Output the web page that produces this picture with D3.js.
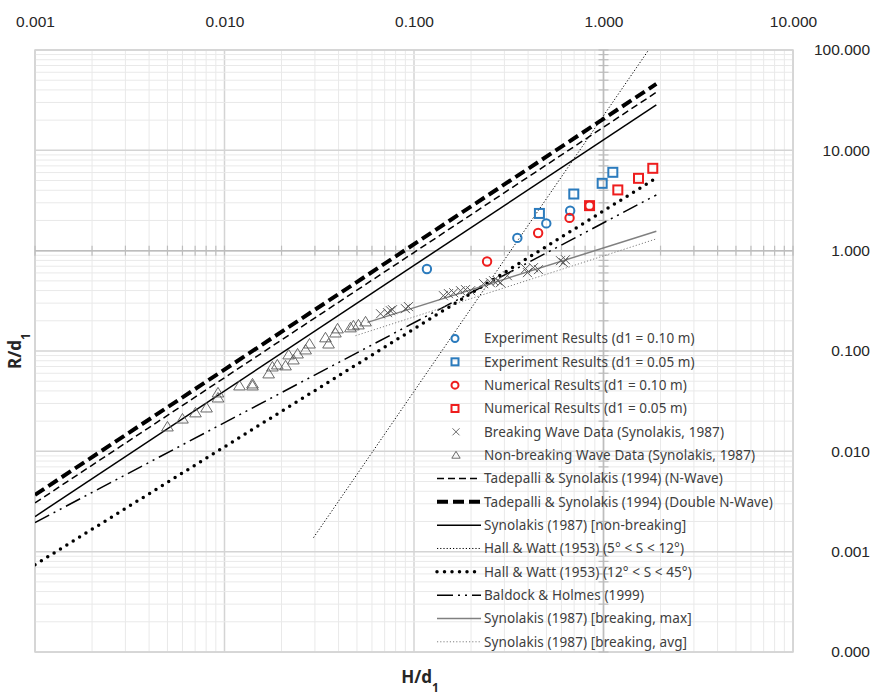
<!DOCTYPE html>
<html>
<head>
<meta charset="utf-8">
<script src="https://cdn.jsdelivr.net/npm/d3@7"></script>
<style>
  body { margin: 0; background: #fff; }
  svg { font-family: "Noto Sans", "Open Sans", sans-serif; }
  .tick-label { font-size: 15.5px; fill: #262626; }
  .legend text { font-size: 13.5px; fill: #404040; letter-spacing: 0.1px; }
  .axis-title { font-size: 17px; font-weight: bold; fill: #262626; }
</style>
</head>
<body>
<div id="chart"></div>
<script>
// tick labels
const xTicks = [0.001, 0.01, 0.1, 1, 10];
const yTicks = [0.0001, 0.001, 0.01, 0.1, 1, 10, 100];

// measured points [H/d1, R/d1]
const expD010 = [[0.117, 0.657], [0.351, 1.34], [0.499, 1.87], [0.667, 2.50]];
const expD005 = [[0.459, 2.35], [0.697, 3.67], [0.984, 4.69], [1.12, 6.04]];
const numD010 = [[0.243, 0.78], [0.452, 1.50], [0.662, 2.12], [0.844, 2.81]];
const numD005 = [[0.844, 2.81], [1.19, 4.03], [1.53, 5.26], [1.82, 6.62]];

const breakingData = [
  [0.0666, 0.235], [0.0725, 0.241], [0.0751, 0.252], [0.0770, 0.258], [0.0902, 0.264],
  [0.0935, 0.277], [0.143, 0.356], [0.152, 0.373], [0.162, 0.381], [0.176, 0.399],
  [0.187, 0.409], [0.199, 0.399], [0.233, 0.469], [0.253, 0.480], [0.263, 0.502],
  [0.276, 0.502], [0.286, 0.480], [0.311, 0.563], [0.388, 0.662], [0.397, 0.604],
  [0.427, 0.677], [0.454, 0.647], [0.593, 0.795], [0.615, 0.759], [0.630, 0.813]
];
const nonBreakingData = [
  [0.0050, 0.0176], [0.0060, 0.0211], [0.00703, 0.0243], [0.00804, 0.0272], [0.00924, 0.0342],
  [0.00924, 0.0384], [0.0120, 0.0451], [0.01405, 0.0472], [0.01405, 0.0451], [0.0171, 0.0594],
  [0.0179, 0.0697], [0.0190, 0.0730], [0.0210, 0.0714], [0.0218, 0.0918], [0.0231, 0.0819],
  [0.0243, 0.0939], [0.0268, 0.103], [0.0281, 0.118], [0.0341, 0.136], [0.0354, 0.118],
  [0.0385, 0.152], [0.0395, 0.167], [0.0462, 0.171], [0.0479, 0.179], [0.0509, 0.183],
  [0.0555, 0.196]
];

// empirical curves, end points [H/d1, R/d1]
const tadepalliN = [[0.001, 0.00306], [1.9, 37.9]];
const tadepalliDN = [[0.001, 0.00368], [1.9, 45.9]];
const synoNonBreaking = [[0.001, 0.00224], [1.9, 28.4]];
const hallWatt5to12 = [[0.0295, 0.00138], [1.73, 100]];
const hallWatt12to45 = [[0.001, 0.00074], [1.9, 5.3]];
const baldockHolmes = [[0.001, 0.00195], [1.9, 3.59]];
const synoBreakMax = [[0.0568, 0.193], [1.9, 1.56]];
const synoBreakAvg = [[0.0491, 0.142], [1.9, 1.31]];

const blue = "#2b7bbd", red = "#ee1d1d", grayMark = "#595959";

const W = 889, H = 696;
const margin = { top: 50, right: 96, bottom: 44, left: 35 };

const svg = d3.select("#chart").append("svg")
  .attr("width", W).attr("height", H);

const x = d3.scaleLog().domain([0.001, 10]).range([margin.left, W - margin.right]);
const y = d3.scaleLog().domain([0.0001, 100]).range([H - margin.bottom, margin.top]);

svg.append("clipPath").attr("id", "plot-clip")
  .append("rect")
  .attr("x", x(0.001)).attr("y", y(100))
  .attr("width", x(10) - x(0.001)).attr("height", y(0.0001) - y(100));

// grid
const grid = svg.append("g");
const isMajor = v => Math.abs(Math.log10(v) - Math.round(Math.log10(v))) < 1e-6;

grid.selectAll(".vx").data(x.ticks())
  .enter().append("line")
  .attr("x1", d => x(d)).attr("x2", d => x(d))
  .attr("y1", y(100)).attr("y2", y(0.0001))
  .attr("stroke", d => isMajor(d) ? "#d4d4d4" : "#e9e9e9")
  .attr("stroke-width", d => isMajor(d) ? 1.5 : 1);

grid.selectAll(".hy").data(y.ticks())
  .enter().append("line")
  .attr("y1", d => y(d)).attr("y2", d => y(d))
  .attr("x1", x(0.001)).attr("x2", x(10))
  .attr("stroke", d => isMajor(d) ? "#d4d4d4" : "#e9e9e9")
  .attr("stroke-width", d => isMajor(d) ? 1.5 : 1);

svg.append("rect")
  .attr("x", x(0.001)).attr("y", y(100))
  .attr("width", x(10) - x(0.001)).attr("height", y(0.0001) - y(100))
  .attr("fill", "none").attr("stroke", "#d4d4d4").attr("stroke-width", 1.5);

// axes crossing at 1 (with cross tick marks)
const axisCol = "#bdbdbd";
svg.append("line")
  .attr("x1", x(1)).attr("x2", x(1)).attr("y1", y(100)).attr("y2", y(0.0001))
  .attr("stroke", axisCol).attr("stroke-width", 1.5);
svg.append("line")
  .attr("x1", x(0.001)).attr("x2", x(10)).attr("y1", y(1)).attr("y2", y(1))
  .attr("stroke", axisCol).attr("stroke-width", 1.5);

svg.append("g").selectAll("line").data(y.ticks())
  .enter().append("line")
  .attr("x1", x(1) - 5).attr("x2", x(1) + 5)
  .attr("y1", d => y(d)).attr("y2", d => y(d))
  .attr("stroke", axisCol).attr("stroke-width", 1.2);
svg.append("g").selectAll("line").data(x.ticks())
  .enter().append("line")
  .attr("y1", y(1) - 5).attr("y2", y(1) + 5)
  .attr("x1", d => x(d)).attr("x2", d => x(d))
  .attr("stroke", axisCol).attr("stroke-width", 1.2);

// tick labels: x on top, y on right
const fmt = d3.format(".3f");
const xAxis = svg.append("g")
  .attr("transform", `translate(0,${27})`)
  .call(d3.axisTop(x).tickValues(xTicks).tickFormat(fmt).tickSize(0).tickPadding(0));
xAxis.select(".domain").remove();
xAxis.selectAll("text").attr("class", "tick-label").attr("fill", null);

const yAxis = svg.append("g")
  .attr("transform", `translate(${870},0)`)
  .call(d3.axisRight(y).tickValues(yTicks).tickFormat(fmt).tickSize(0).tickPadding(0));
yAxis.select(".domain").remove();
yAxis.selectAll("text").attr("class", "tick-label").attr("fill", null)
  .attr("text-anchor", "end");

// axis titles
const yt = svg.append("text").attr("class", "axis-title")
  .attr("transform", `translate(21,${(y(100) + y(0.0001)) / 2}) rotate(-90)`)
  .attr("text-anchor", "middle");
yt.append("tspan").text("R/d");
yt.append("tspan").attr("baseline-shift", "sub").attr("font-size", "12px").text("1");

const xt = svg.append("text").attr("class", "axis-title")
  .attr("x", 420).attr("y", 683).attr("text-anchor", "middle");
xt.append("tspan").text("H/d");
xt.append("tspan").attr("baseline-shift", "sub").attr("font-size", "12px").text("1");

// curve styles
const curves = [
  { data: tadepalliN, stroke: "#000", width: 1.5, dash: "7,4", cap: "butt" },
  { data: tadepalliDN, stroke: "#000", width: 4, dash: "11,5", cap: "butt" },
  { data: synoNonBreaking, stroke: "#000", width: 1.5, dash: null, cap: "butt" },
  { data: hallWatt5to12, stroke: "#000", width: 1, dash: "1.2,2", cap: "butt" },
  { data: hallWatt12to45, stroke: "#000", width: 3.5, dash: "0,7.5", cap: "round" },
  { data: baldockHolmes, stroke: "#000", width: 1.5, dash: "16,5,2,5,2,5", cap: "butt" },
  { data: synoBreakMax, stroke: "#808080", width: 1.5, dash: null, cap: "butt" },
  { data: synoBreakAvg, stroke: "#808080", width: 1, dash: "1.2,2", cap: "butt" }
];

const line = d3.line().x(d => x(d[0])).y(d => y(d[1]));
const plot = svg.append("g").attr("clip-path", "url(#plot-clip)");

plot.selectAll(".curve").data(curves)
  .enter().append("path")
  .attr("class", "curve")
  .attr("d", d => line(d.data))
  .attr("fill", "none")
  .attr("stroke", d => d.stroke)
  .attr("stroke-width", d => d.width)
  .attr("stroke-dasharray", d => d.dash)
  .attr("stroke-linecap", d => d.cap);

// marker shapes
const crossPath = s => `M${-s},${-s}L${s},${s}M${-s},${s}L${s},${-s}`;
const triPath = s => `M0,${-s}L${s * 1.1},${s * 0.8}L${-s * 1.1},${s * 0.8}Z`;

plot.selectAll(".nb").data(nonBreakingData)
  .enter().append("path")
  .attr("transform", d => `translate(${x(d[0])},${y(d[1])})`)
  .attr("d", triPath(5.3))
  .attr("fill", "none").attr("stroke", grayMark).attr("stroke-width", 0.9);

plot.selectAll(".br").data(breakingData)
  .enter().append("path")
  .attr("transform", d => `translate(${x(d[0])},${y(d[1])})`)
  .attr("d", crossPath(4.5))
  .attr("fill", "none").attr("stroke", grayMark).attr("stroke-width", 1);

function circles(data, color) {
  plot.append("g").selectAll("circle").data(data)
    .enter().append("circle")
    .attr("cx", d => x(d[0])).attr("cy", d => y(d[1])).attr("r", 4.2)
    .attr("fill", "none").attr("stroke", color).attr("stroke-width", 2);
}
function squares(data, color) {
  plot.append("g").selectAll("rect").data(data)
    .enter().append("rect")
    .attr("x", d => x(d[0]) - 4.5).attr("y", d => y(d[1]) - 4.5)
    .attr("width", 9).attr("height", 9)
    .attr("fill", "none").attr("stroke", color).attr("stroke-width", 2);
}
circles(expD010, blue);
squares(expD005, blue);
circles(numD010, red);
squares(numD005, red);

// legend
const legendItems = [
  { label: "Experiment Results (d1 = 0.10 m)", marker: "circle", color: blue },
  { label: "Experiment Results (d1 = 0.05 m)", marker: "square", color: blue },
  { label: "Numerical Results (d1 = 0.10 m)", marker: "circle", color: red },
  { label: "Numerical Results (d1 = 0.05 m)", marker: "square", color: red },
  { label: "Breaking Wave Data (Synolakis, 1987)", marker: "cross", color: grayMark },
  { label: "Non-breaking Wave Data (Synolakis, 1987)", marker: "tri", color: grayMark },
  { label: "Tadepalli & Synolakis (1994) (N-Wave)", curve: 0 },
  { label: "Tadepalli & Synolakis (1994) (Double N-Wave)", curve: 1 },
  { label: "Synolakis (1987) [non-breaking]", curve: 2 },
  { label: "Hall & Watt (1953) (5° < S < 12°)", curve: 3 },
  { label: "Hall & Watt (1953) (12° < S < 45°)", curve: 4 },
  { label: "Baldock & Holmes (1999)", curve: 5 },
  { label: "Synolakis (1987) [breaking, max]", curve: 6 },
  { label: "Synolakis (1987) [breaking, avg]", curve: 7 }
];

const legend = svg.append("g").attr("class", "legend");
const rowY = i => 338.5 + i * 23.33;
const row = legend.selectAll("g").data(legendItems)
  .enter().append("g")
  .attr("transform", (d, i) => `translate(0,${rowY(i)})`);

row.each(function(d) {
  const g = d3.select(this);
  if (d.curve !== undefined) {
    const c = curves[d.curve];
    g.append("line")
      .attr("x1", 437).attr("x2", 481).attr("y1", 0).attr("y2", 0)
      .attr("stroke", c.stroke).attr("stroke-width", c.width)
      .attr("stroke-dasharray", c.dash).attr("stroke-linecap", c.cap);
  } else if (d.marker === "circle") {
    g.append("circle").attr("cx", 455).attr("cy", 0).attr("r", 3.5)
      .attr("fill", "none").attr("stroke", d.color).attr("stroke-width", 2);
  } else if (d.marker === "square") {
    g.append("rect").attr("x", 451.5).attr("y", -3.5).attr("width", 7).attr("height", 7)
      .attr("fill", "none").attr("stroke", d.color).attr("stroke-width", 2);
  } else if (d.marker === "cross") {
    g.append("path").attr("transform", "translate(456,0)").attr("d", crossPath(3.5))
      .attr("fill", "none").attr("stroke", d.color).attr("stroke-width", 0.9);
  } else {
    g.append("path").attr("transform", "translate(456,0)").attr("d", triPath(3.8))
      .attr("fill", "none").attr("stroke", d.color).attr("stroke-width", 0.9);
  }
  g.append("text").attr("x", 484).attr("y", 0).attr("dy", "0.35em").text(d.label);
});
</script>
</body>
</html>
